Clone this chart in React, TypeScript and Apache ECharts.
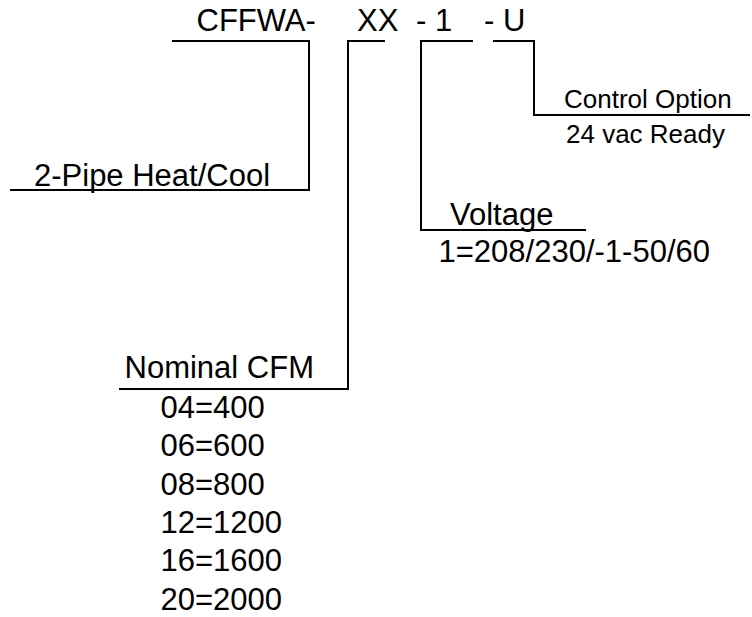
import React, { useEffect, useRef } from "react";
import * as echarts from "echarts";

const modelParts = ["CFFWA-", "XX", "- 1", "- U"];
const typeLabel = "2-Pipe Heat/Cool";
const cfmTitle = "Nominal CFM";
const cfmOptions = ["04=400", "06=600", "08=800", "12=1200", "16=1600", "20=2000"];
const voltageTitle = "Voltage";
const voltageOptions = ["1=208/230/-1-50/60"];
const controlTitle = "Control Option";
const controlOptions = ["24 vac Ready"];

const FONT = "'Liberation Sans', Arial, Helvetica, sans-serif";
const BIG = 31;
const SMALL = 26;
// baseline offset from middle for Arial-metric fonts
const off = (f: number) => f * 0.3465;

function txt(text: string, x: number, baseline: number, size: number) {
  return {
    type: "text",
    x,
    y: baseline - off(size),
    style: {
      text,
      fill: "#000",
      font: `${size}px ${FONT}`,
      align: "left",
      verticalAlign: "middle",
    },
  };
}

function poly(points: number[][]) {
  return {
    type: "polyline",
    shape: { points },
    style: { stroke: "#000", lineWidth: 2, fill: "none" },
  };
}

export default function App() {
  const ref = useRef<HTMLDivElement>(null);
  useEffect(() => {
    if (!ref.current) return;
    const chart = echarts.init(ref.current, undefined, { renderer: "svg" });
    const partX = [196.5, 357, 416, 484];
    const elements: any[] = [];
    modelParts.forEach((p, i) => elements.push(txt(p, partX[i], 31, BIG)));
    // brackets
    elements.push(poly([[172, 41], [309, 41], [309, 190], [10, 190]]));
    elements.push(poly([[385, 41], [348, 41], [348, 389], [119, 389]]));
    elements.push(poly([[473, 41], [421, 41], [421, 230], [586, 230]]));
    elements.push(poly([[493, 41], [534, 41], [534, 115], [750, 115]]));
    // labels
    elements.push(txt(typeLabel, 34, 186, BIG));
    elements.push(txt(cfmTitle, 124.5, 378, BIG));
    cfmOptions.forEach((c, i) => elements.push(txt(c, 160.5, 418 + i * 38.4, BIG)));
    elements.push(txt(voltageTitle, 450, 225, BIG));
    voltageOptions.forEach((v, i) => elements.push(txt(v, 438.5, 262 + i * 38.8, BIG)));
    elements.push(txt(controlTitle, 564, 108, SMALL));
    controlOptions.forEach((c, i) => elements.push(txt(c, 566, 143 + i * 34, SMALL)));
    chart.setOption({
      animation: false,
      backgroundColor: "#fff",
      graphic: { elements },
    });
    return () => chart.dispose();
  }, []);
  return (
    <div
      ref={ref}
      style={{ width: 752, height: 617, position: "absolute", left: 0, top: 0 }}
    />
  );
}
